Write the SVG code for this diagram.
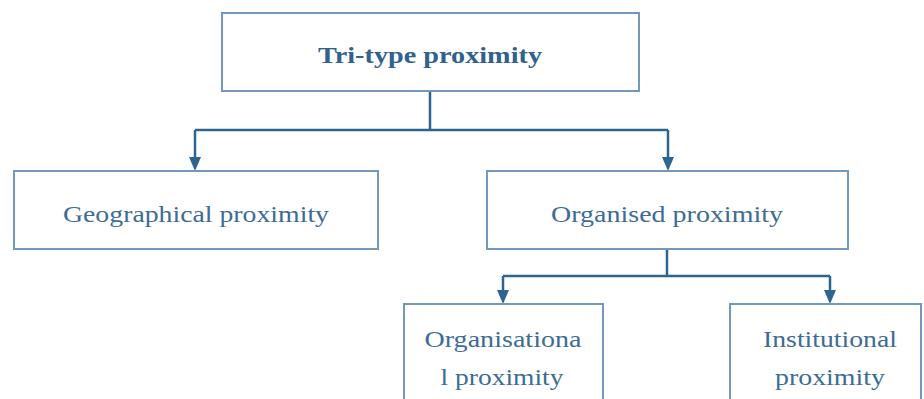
<svg xmlns="http://www.w3.org/2000/svg" width="924" height="399" viewBox="0 0 924 399">
<style>
.box{fill:#fff;stroke:#7298bb;stroke-width:2}
.t{font-family:"Liberation Serif","DejaVu Serif",serif;font-size:23px;fill:#3d6c94;text-anchor:middle}
.b{font-weight:bold;fill:#2f628d}
.c{fill:none;stroke:#2e6590;stroke-width:2.5}
.ah{fill:#2e6590}
</style>
<rect width="924" height="399" fill="#fff"/>
<g id="connectors">
<path class="c" d="M430,91 V130"/>
<path class="c" d="M195,130 H668"/>
<path class="c" d="M195,130 V159"/>
<polygon class="ah" points="189,157 201,157 195,171"/>
<path class="c" d="M668,130 V159"/>
<polygon class="ah" points="662,157 674,157 668,171"/>
<path class="c" d="M667,249 V276"/>
<path class="c" d="M503,276 H830"/>
<path class="c" d="M503,276 V292"/>
<polygon class="ah" points="497,290 509,290 503,304"/>
<path class="c" d="M830,276 V292"/>
<polygon class="ah" points="824,290 836,290 830,304"/>
</g>
<g id="tri">
<rect class="box" x="222" y="13" width="417" height="78"/>
<text class="t b" x="430" y="63" textLength="224" lengthAdjust="spacingAndGlyphs">Tri-type proximity</text>
</g>
<g id="geo">
<rect class="box" x="14" y="171" width="364" height="78"/>
<text class="t" x="196" y="222" textLength="266" lengthAdjust="spacingAndGlyphs">Geographical proximity</text>
</g>
<g id="org">
<rect class="box" x="487" y="171" width="361" height="78"/>
<text class="t" x="667" y="222" textLength="232" lengthAdjust="spacingAndGlyphs">Organised proximity</text>
</g>
<g id="orgl">
<rect class="box" x="404" y="304" width="199" height="110"/>
<text class="t" x="503" y="347" textLength="157" lengthAdjust="spacingAndGlyphs">Organisationa</text>
<text class="t" x="502" y="385" textLength="123" lengthAdjust="spacingAndGlyphs">l proximity</text>
</g>
<g id="inst">
<rect class="box" x="730" y="304" width="191" height="110"/>
<text class="t" x="830" y="347" textLength="134" lengthAdjust="spacingAndGlyphs">Institutional</text>
<text class="t" x="830" y="385" textLength="110" lengthAdjust="spacingAndGlyphs">proximity</text>
</g>
</svg>
